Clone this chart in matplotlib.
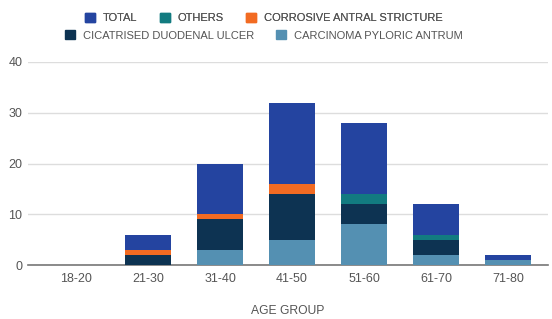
import numpy as np
import matplotlib.pyplot as plt
from matplotlib.patches import Patch

plt.rcParams['font.family'] = ['Liberation Sans', 'DejaVu Sans']

age_groups = ['18-20', '21-30', '31-40', '41-50', '51-60', '61-70', '71-80']
carcinoma = [0, 0, 3, 5, 8, 2, 1]
cicatrised = [0, 2, 6, 9, 4, 3, 0]
others = [0, 0, 0, 0, 2, 1, 0]
corrosive = [0, 1, 1, 2, 0, 0, 0]
total = [0, 3, 10, 16, 14, 6, 1]

series = [
    ('CARCINOMA PYLORIC ANTRUM', carcinoma, '#5490b2'),
    ('CICATRISED DUODENAL ULCER', cicatrised, '#0d3352'),
    ('OTHERS', others, '#127b80'),
    ('CORROSIVE ANTRAL STRICTURE', corrosive, '#f26b22'),
    ('TOTAL', total, '#2444a0'),
]

fig = plt.figure(figsize=(5.52, 3.19), dpi=100)
ax = fig.add_axes([28/552, 54/319, 520/552, 203/319])

x = np.arange(len(age_groups))
bottom = np.zeros(len(age_groups))
for name, vals, col in series:
    ax.bar(x, vals, 0.64, bottom=bottom, color=col, zorder=3)
    bottom += np.array(vals)

ax.set_xlim(-0.667, 6.556)
ax.set_ylim(0, 40)
ax.set_yticks([0, 10, 20, 30, 40])
ax.set_xticks(x)
ax.set_xticklabels(age_groups)
ax.tick_params(axis='both', length=0, labelsize=9, colors='#555555')
ax.tick_params(axis='y', pad=4)
ax.tick_params(axis='x', pad=6)
ax.grid(axis='y', color='#dddddd', linewidth=1, zorder=0)
for s in ['top', 'right', 'left']:
    ax.spines[s].set_visible(False)
ax.spines['bottom'].set_color('#777777')
ax.spines['bottom'].set_linewidth(1.2)
ax.set_xlabel('AGE GROUP', fontsize=8.7, color='#555555', labelpad=14)

order = ['TOTAL', 'OTHERS', 'CORROSIVE ANTRAL STRICTURE']
order2 = ['CICATRISED DUODENAL ULCER', 'CARCINOMA PYLORIC ANTRUM']
cols = {n: c for n, _, c in series}
kw = dict(loc='center', frameon=False, fontsize=8, handlelength=0.9, handleheight=0.9,
          columnspacing=2.0, handletextpad=0.7, labelcolor='#555555',
          borderpad=0, borderaxespad=0)
leg1 = fig.legend(handles=[Patch(color=cols[n], label=n) for n in order],
                  bbox_to_anchor=(0.478, 0.944), ncol=3, **kw)
leg2 = fig.legend(handles=[Patch(color=cols[n], label=n) for n in order2],
                  bbox_to_anchor=(0.478, 0.889), ncol=2, **kw)
fig.add_artist(leg1)

fig.savefig('out.png', dpi=100)
